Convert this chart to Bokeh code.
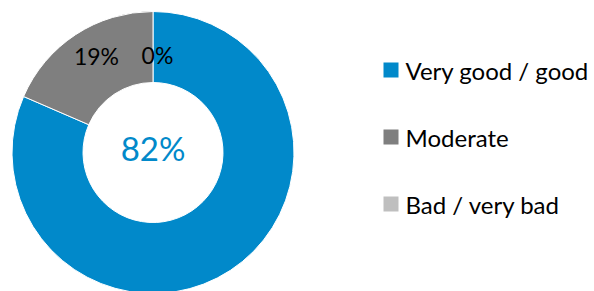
import math
from bokeh.plotting import figure
from bokeh.models import Range1d, ColumnDataSource
from bokeh.core.properties import value
from bokeh.embed import file_html
from bokeh.resources import INLINE

categories = ["Very good / good", "Moderate", "Bad / very bad"]
shares = [81.5, 18.5, 0.0]
labels = ["82%", "19%", "0%"]
colors = ["#0189CA", "#7F7F7F", "#BFBFBF"]

W, H = 594, 291
FONT = "Lato"

p = figure(width=W, height=H, x_range=Range1d(0, W), y_range=Range1d(0, H),
           output_backend="svg", toolbar_location=None, min_border=0)
p.axis.visible = False
p.grid.visible = False
p.outline_line_color = None
p.background_fill_color = "white"

cx, cy = 152.5, H - 152
r_out, r_in = 141, 70

total = sum(shares)
data = dict(x=[], y=[], start=[], end=[], color=[], cat=[])
cum = 0.0
for s, c, k in zip(shares, colors, categories):
    a0 = math.pi / 2 - cum / total * 2 * math.pi
    cum += s
    a1 = math.pi / 2 - cum / total * 2 * math.pi
    if s > 0:
        data["x"].append(cx); data["y"].append(cy)
        data["start"].append(a0); data["end"].append(a1)
        data["color"].append(c); data["cat"].append(k)

src = ColumnDataSource(data)
p.annular_wedge(x="x", y="y", inner_radius=r_in, outer_radius=r_out,
                start_angle="start", end_angle="end", direction="clock",
                fill_color="color", line_color="white", line_width=1, source=src)

# center label (first category)
p.text(x=[cx], y=[H - 147], text=[labels[0]], text_color=colors[0],
       text_font=value(FONT), text_font_size="33px",
       text_align="center", text_baseline="middle")
# ring labels
p.text(x=[96, 157], y=[H - 55.5, H - 54], text=labels[1:], text_color="#000000",
       text_font=value(FONT), text_font_size="23px",
       text_align="center", text_baseline="middle")

# legend
ly = [H - 69.5 - 67 * i for i in range(3)]
p.scatter(x=[390.5] * 3, y=ly, marker="square", size=15, fill_color=colors,
          line_color=None)
p.text(x=[405] * 3, y=ly, text=categories, text_color="#000000",
       text_font=value(FONT), text_font_size="24px",
       text_align="left", text_baseline="middle")

open("out.html", "w").write(file_html(p, INLINE))
